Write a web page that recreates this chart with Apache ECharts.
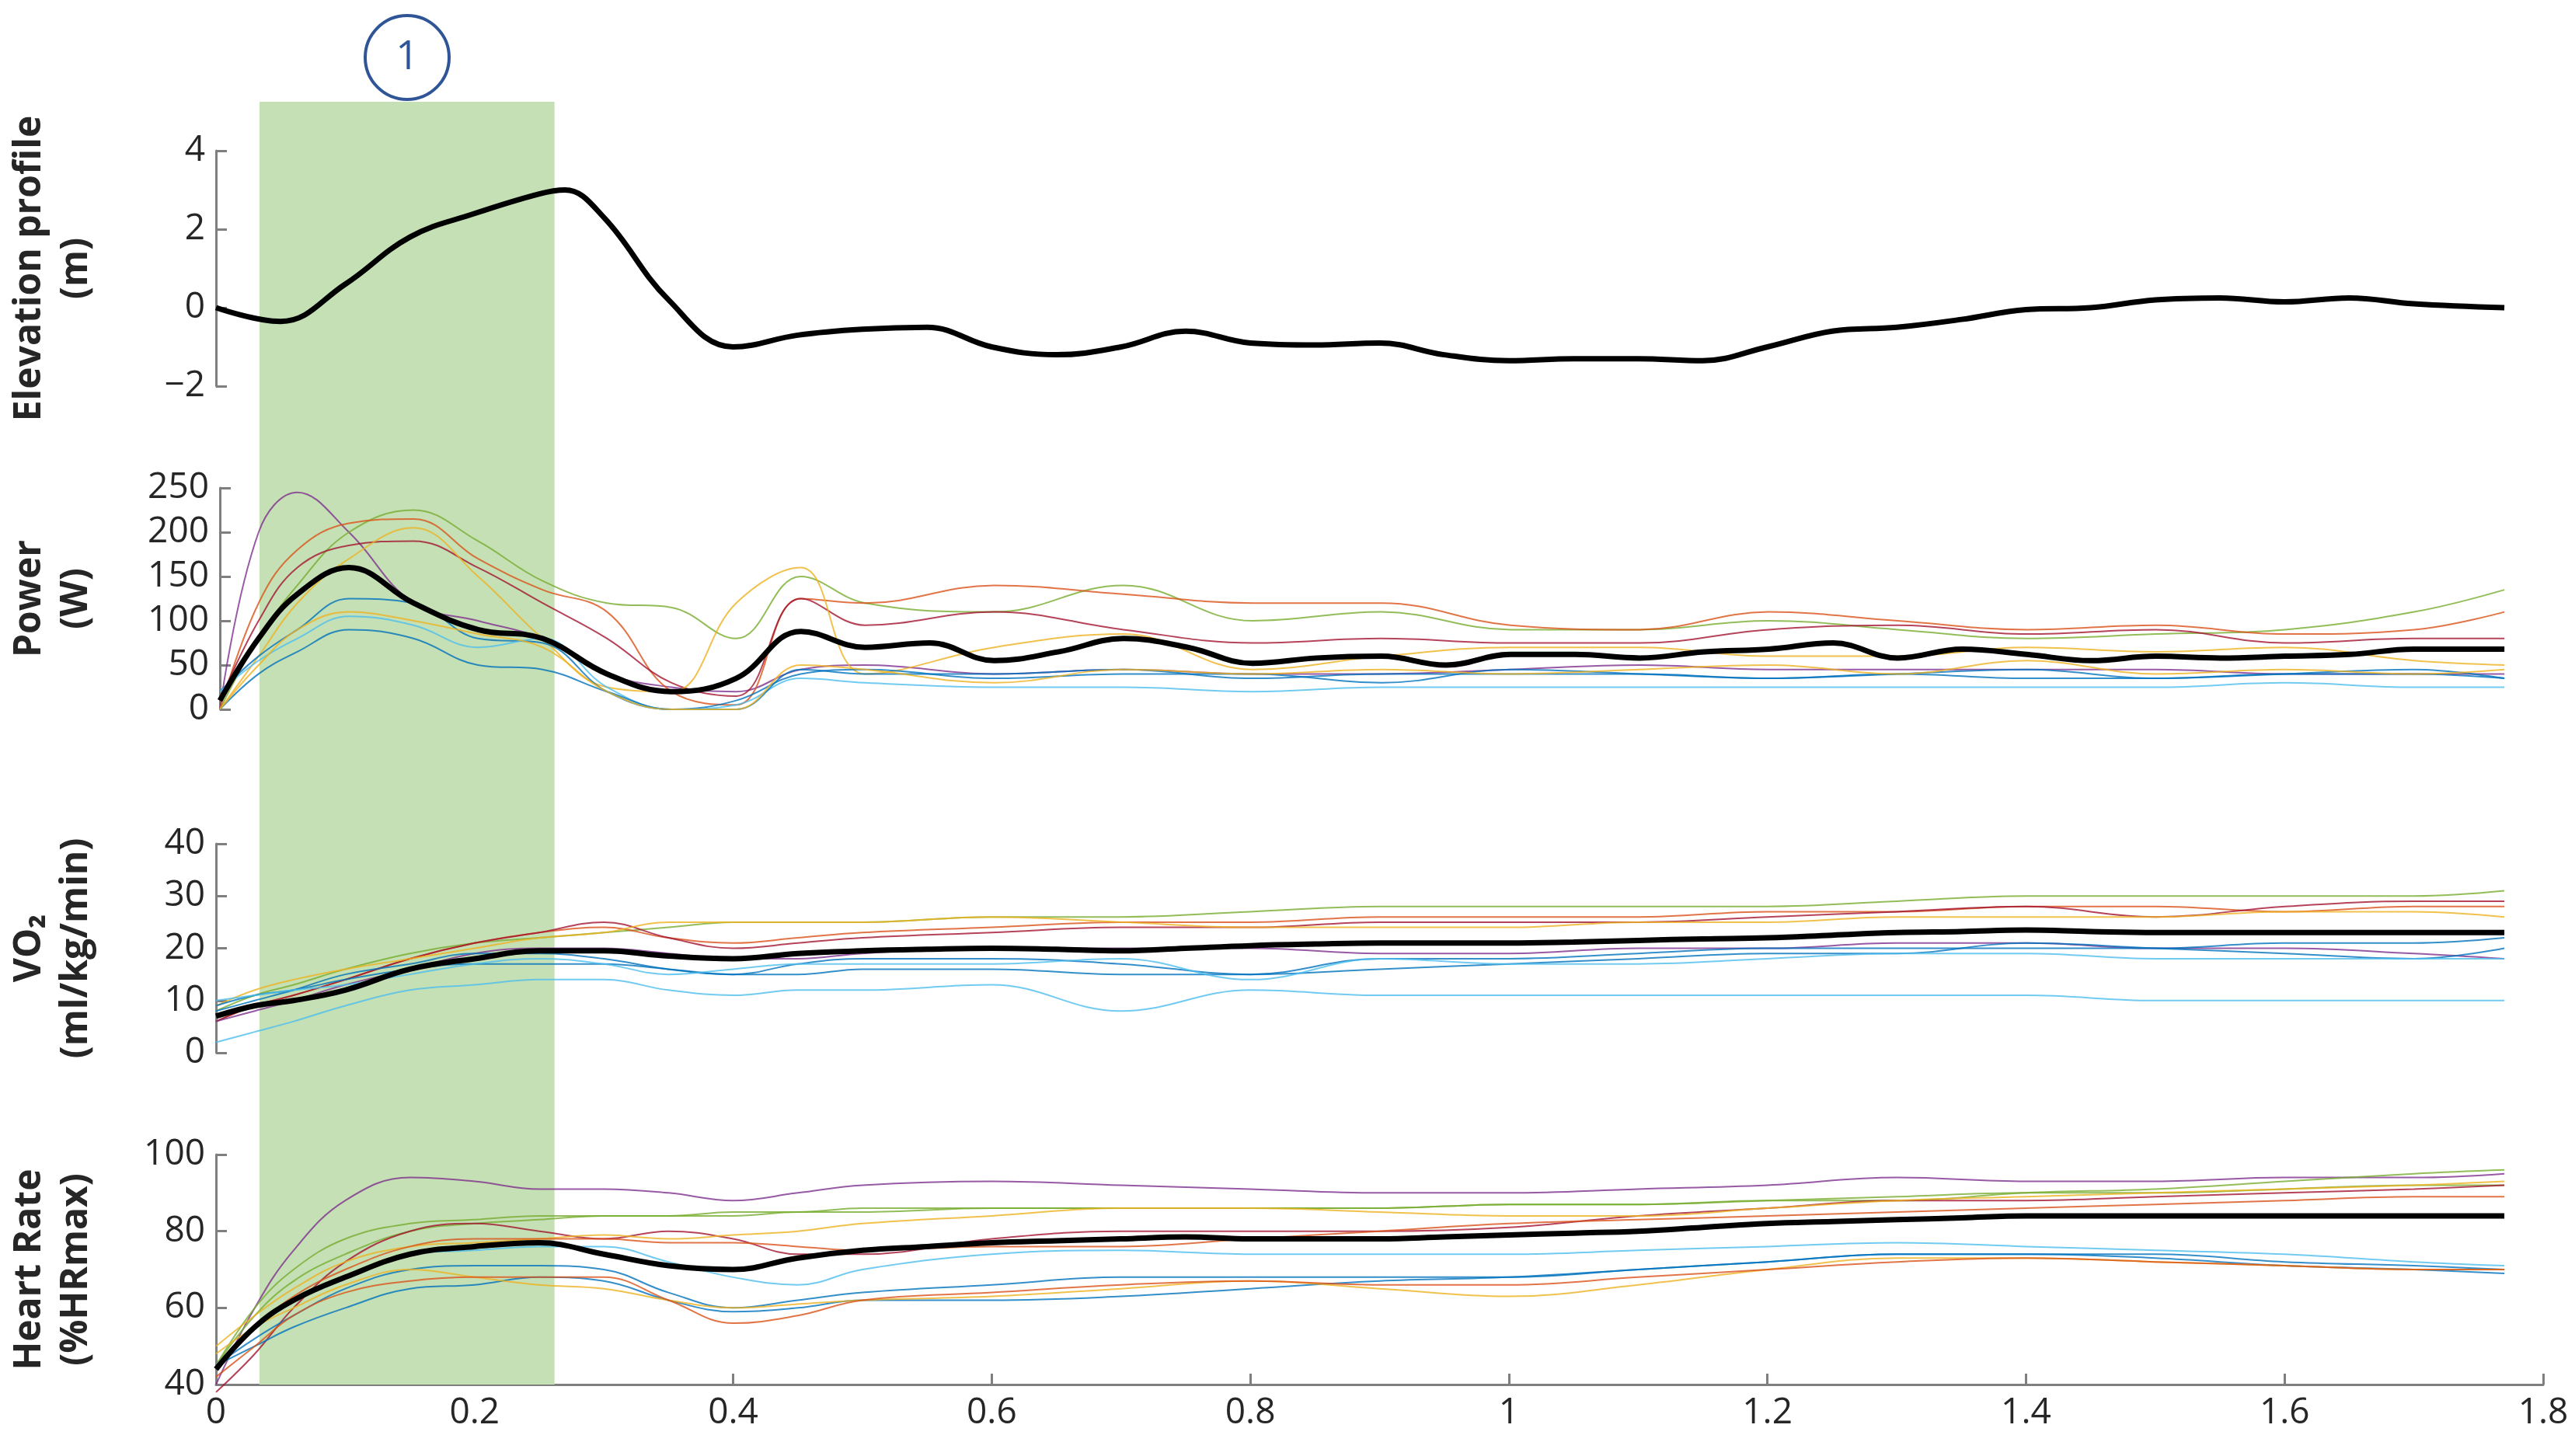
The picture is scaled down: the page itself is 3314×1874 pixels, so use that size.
<!DOCTYPE html>
<html lang="en">
<head>
<meta charset="UTF-8">
<title>Elevation / Power / VO2 / HR</title>
<style>html,body{margin:0;padding:0;background:#fff}#main{width:3314px;height:1874px}</style>
</head>
<body>
<div id="main"></div>
<script src="https://cdn.jsdelivr.net/npm/echarts@6/dist/echarts.min.js"></script>
<script>
// common x grid for individual subject curves (km)
var xs = [0,0.03,0.06,0.1,0.15,0.2,0.25,0.3,0.35,0.4,0.45,0.5,0.6,0.7,0.8,0.9,1.0,1.1,1.2,1.3,1.4,1.5,1.6,1.7,1.77];
var xTicks = ['0','0.2','0.4','0.6','0.8','1','1.2','1.4','1.6','1.8'];
var bandStart = 0.043, bandEnd = 0.27;

// elevation profile (black)
var elevX = [0,0.05,0.1,0.15,0.2,0.25,0.27,0.3,0.35,0.4,0.45,0.5,0.55,0.6,0.65,0.7,0.75,0.8,0.85,0.9,0.95,1.0,1.05,1.1,1.15,1.2,1.25,1.3,1.35,1.4,1.45,1.5,1.55,1.6,1.65,1.7,1.77];
var elev = [0,-0.35,0.6,1.8,2.4,2.9,3.0,2.3,0.2,-1.0,-0.7,-0.55,-0.5,-1.0,-1.2,-1.0,-0.6,-0.9,-0.95,-0.9,-1.2,-1.35,-1.3,-1.3,-1.35,-1.0,-0.6,-0.5,-0.3,-0.05,0.0,0.2,0.25,0.15,0.25,0.1,0.0];

// mean curves (black)
var meanX = [0,0.03,0.06,0.1,0.15,0.2,0.25,0.3,0.35,0.4,0.45,0.5,0.55,0.6,0.65,0.7,0.75,0.8,0.85,0.9,0.95,1.0,1.05,1.1,1.15,1.2,1.25,1.3,1.35,1.4,1.45,1.5,1.55,1.6,1.65,1.7,1.77];
var powerMean = [10,80,130,160,120,90,80,40,20,35,88,70,75,55,65,80,70,52,58,60,50,62,62,58,65,68,75,58,68,62,55,60,58,60,62,68,68];
var vo2Mean = [7,9,10,12,16,18,19.5,19.5,18.5,18,19,19.5,19.8,20,19.8,19.5,20,20.5,20.8,21,21,21,21.2,21.5,21.8,22,22.5,23,23.2,23.5,23.2,23,23,23,23,23,23];
var hrMean = [44,55,62,68,74,76,77,74,71,70,73,75,76,77,77.5,78,78.5,78,78,78,78.5,79,79.5,80,81,82,82.5,83,83.5,84,84,84,84,84,84,84,84];

// individual subjects: [colour, values on xs]
var powerSubj = [
  ['#7E2F8E',[0,200,245,200,120,100,80,40,25,20,45,50,40,45,40,40,45,50,45,45,45,45,40,40,40]],
  ['#77AC30',[0,80,140,200,225,190,145,120,115,80,150,120,110,140,100,110,90,90,100,90,80,85,90,110,135]],
  ['#D95319',[0,120,180,210,215,170,135,110,20,5,125,120,140,130,120,120,95,90,110,100,90,95,85,90,110]],
  ['#A2142F',[10,100,160,185,190,160,120,80,30,15,125,95,110,90,75,80,75,75,90,95,85,90,75,80,80]],
  ['#EDB120',[0,60,120,170,205,150,80,25,20,120,160,40,70,85,45,60,70,70,60,60,70,65,70,55,50]],
  ['#0072BD',[20,60,90,125,120,80,75,20,0,10,40,45,35,40,40,30,45,40,35,40,45,35,40,45,35]],
  ['#4DBEEE',[20,55,80,105,95,70,80,25,0,5,35,30,25,25,20,25,25,25,25,25,25,25,30,25,25]],
  ['#0072BD',[0,40,65,90,80,50,45,20,0,0,45,40,40,45,35,40,40,40,35,40,35,35,40,40,35]],
  ['#EDB120',[0,50,90,110,100,85,70,20,0,0,50,45,30,45,40,45,40,45,50,40,55,40,45,40,45]]
];
var vo2Subj = [
  ['#77AC30',[8,11,13,16,19,21,22,23,24,25,25,25,26,26,27,28,28,28,28,29,30,30,30,30,31]],
  ['#D95319',[6,9,11,14,18,21,23,24,22,21,22,23,24,25,25,26,26,26,27,27,28,28,27,28,28]],
  ['#A2142F',[6,9,11,14,18,21,23,25,22,20,21,22,23,24,24,25,25,25,26,27,28,26,28,29,29]],
  ['#EDB120',[9,12,14,16,18,20,22,23,25,25,25,25,26,25,24,24,24,25,25,26,26,26,27,27,26]],
  ['#7E2F8E',[6,8,10,13,16,19,20,20,19,18,18,19,20,20,20,19,19,20,20,21,21,20,20,19,18]],
  ['#0072BD',[8,10,12,15,17,19,19,18,16,15,17,18,18,17,15,18,18,19,20,20,20,20,21,21,22]],
  ['#0072BD',[9,11,12,14,16,17,17,17,16,15,15,16,16,15,15,16,17,18,19,19,21,20,19,18,20]],
  ['#4DBEEE',[2,4,6,9,12,13,14,14,12,11,12,12,13,8,12,11,11,11,11,11,11,10,10,10,10]],
  ['#4DBEEE',[10,11,12,13,15,17,18,17,15,16,17,17,17,18,14,18,17,17,18,19,19,18,18,18,18]]
];
var hrSubj = [
  ['#7E2F8E',[40,60,75,88,94,93,91,91,90,88,90,92,93,92,91,90,90,91,92,94,93,93,94,94,95]],
  ['#77AC30',[45,60,70,78,82,83,84,84,84,84,85,85,86,86,86,86,87,87,88,88,90,91,93,95,96]],
  ['#77AC30',[45,58,67,74,80,82,83,84,84,85,85,86,86,86,86,86,87,87,88,89,90,90,91,92,92]],
  ['#A2142F',[38,48,60,72,80,82,80,78,80,78,74,74,78,80,80,80,81,84,86,88,88,89,90,91,92]],
  ['#EDB120',[50,58,65,72,76,77,78,79,78,79,80,82,84,86,86,85,84,84,86,88,89,90,91,92,93]],
  ['#D95319',[45,55,63,70,76,78,78,78,77,77,76,75,76,76,78,80,82,83,84,85,86,87,88,89,89]],
  ['#4DBEEE',[45,55,62,68,74,75,76,76,72,68,66,70,74,75,74,74,74,75,76,77,76,75,74,72,71]],
  ['#0072BD',[45,52,58,65,70,71,71,70,64,60,62,64,66,68,68,68,68,70,72,74,74,74,72,71,70]],
  ['#0072BD',[45,50,55,60,65,66,68,67,62,59,60,62,62,63,65,67,68,70,72,74,74,73,71,70,69]],
  ['#EDB120',[48,55,60,66,70,68,66,65,62,60,61,62,63,65,67,65,63,66,70,73,73,72,71,70,70]],
  ['#D95319',[42,50,58,64,67,68,68,68,62,56,58,62,64,66,67,66,66,68,70,72,73,72,71,70,70]]
];

function pairs(x, y) { return x.map(function (v, i) { return [v, y[i]]; }); }

var chart = echarts.init(document.getElementById('main'));
var FONT = 'Open Sans';
var grids = [
  { left: 262, right: 41, top: 131, height: 1651 },  // band overlay
  { left: 262, right: 41, top: 194, height: 303 },
  { left: 262, right: 41, top: 628, height: 285 },
  { left: 262, right: 41, top: 1086, height: 269 },
  { left: 262, right: 41, top: 1486, height: 296 }
];
var xAxes = grids.map(function (g, i) {
  var last = i === 4;
  return {
    gridIndex: i, type: 'value', min: 0, max: 1.8, interval: 0.2,
    show: i === 0 ? false : true,
    axisLine: { show: last, lineStyle: { color: '#7f7f7f', width: 3 } },
    axisTick: { show: last, inside: true, length: 14, lineStyle: { color: '#7f7f7f', width: 3 } },
    axisLabel: { show: last, color: '#262626', fontSize: 46, fontFamily: FONT, margin: 14,
      formatter: function (v) { return xTicks[Math.round(v / 0.2)]; } },
    splitLine: { show: false }
  };
});
function yAx(i, min, max, step, name, gap) {
  return {
    gridIndex: i, type: 'value', min: min, max: max, interval: step,
    name: name, nameLocation: 'middle', nameGap: gap, nameRotate: 90,
    nameTextStyle: { fontSize: 48, fontWeight: 'bold', fontFamily: FONT, color: '#262626', lineHeight: 60 },
    axisLine: { show: true, lineStyle: { color: '#7f7f7f', width: 3 } },
    axisTick: { show: true, inside: true, length: 14, lineStyle: { color: '#7f7f7f', width: 3 } },
    axisLabel: { color: '#262626', fontSize: 46, fontFamily: FONT, margin: 14,
      formatter: function (v) { return String(v).replace('-', '\u2212'); } },
    splitLine: { show: false }
  };
}
var yAxes = [
  { gridIndex: 0, type: 'value', min: 0, max: 1, show: false },
  yAx(1, -2, 4, 2, 'Elevation profile\n(m)', 150),
  yAx(2, 0, 250, 50, 'Power\n(W)', 155),
  yAx(3, 0, 40, 10, 'VO\u2082\n(ml/kg/min)', 150),
  yAx(4, 40, 100, 20, 'Heart Rate\n(%HRmax)', 150)
];

var series = [{
  type: 'line', xAxisIndex: 0, yAxisIndex: 0, data: [], silent: true, z: 0,
  markArea: { silent: true, itemStyle: { color: '#c5e0b4' },
    data: [[{ xAxis: bandStart, yAxis: 0 }, { xAxis: bandEnd, yAxis: 1 }]] }
}];
function thin(idx, list) {
  list.forEach(function (s) {
    series.push({ type: 'line', xAxisIndex: idx, yAxisIndex: idx, data: pairs(xs, s[1]),
      smooth: 0.4, symbol: 'none', z: 2, clip: false, lineStyle: { color: s[0], width: 2, opacity: 0.8 } });
  });
}
function thick(idx, x, y) {
  series.push({ type: 'line', xAxisIndex: idx, yAxisIndex: idx, data: pairs(x, y),
    smooth: 0.4, symbol: 'none', z: 3, lineStyle: { color: '#000', width: 7 } });
}
thick(1, elevX, elev);
thin(2, powerSubj); thick(2, meanX, powerMean);
thin(3, vo2Subj); thick(3, meanX, vo2Mean);
thin(4, hrSubj); thick(4, meanX, hrMean);

chart.setOption({
  animation: false,
  backgroundColor: '#fff',
  grid: grids,
  xAxis: xAxes,
  yAxis: yAxes,
  series: series,
  graphic: [{
    type: 'group', left: 468, top: 18,
    children: [
      { type: 'circle', shape: { cx: 56, cy: 56, r: 54 }, style: { fill: '#fff', stroke: '#2f5597', lineWidth: 4 } },
      { type: 'text', x: 56, y: 56, style: { text: '1', fill: '#2f5597', fontSize: 52, fontFamily: FONT, align: 'center', verticalAlign: 'middle' } }
    ]
  }]
});
</script>
</body>
</html>
